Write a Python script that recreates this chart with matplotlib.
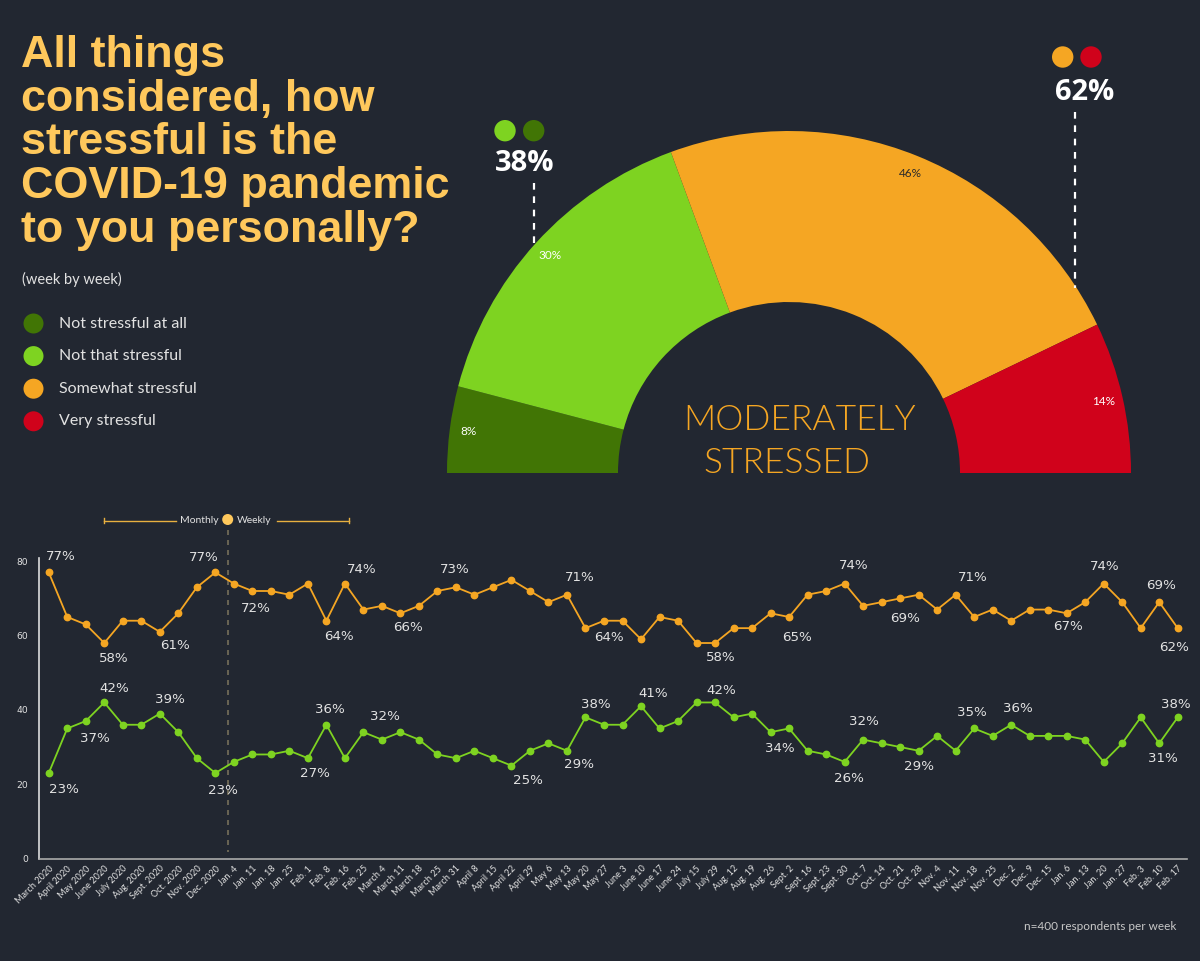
import matplotlib
matplotlib.use('Agg')
import matplotlib.pyplot as plt
from matplotlib.patches import Wedge, Circle
import numpy as np

# ---------------- data ----------------
categories = ['Not stressful at all', 'Not that stressful', 'Somewhat stressful', 'Very stressful']
gauge_values = [8, 30, 46, 14]
not_stressed_total = 38
stressed_total = 62

dates = ['March 2020', 'April 2020', 'May 2020', 'June 2020', 'July 2020', 'Aug. 2020',
         'Sept. 2020', 'Oct. 2020', 'Nov. 2020', 'Dec. 2020',
         'Jan. 4', 'Jan. 11', 'Jan. 18', 'Jan. 25', 'Feb. 1', 'Feb. 8', 'Feb. 16', 'Feb. 25',
         'March 4', 'March 11', 'March 18', 'March 25', 'March 31', 'April 8', 'April 15',
         'April 22', 'April 29', 'May 6', 'May 13', 'May 20', 'May 27', 'June 3', 'June 10',
         'June 17', 'June 24', 'July 15', 'July 29', 'Aug. 12', 'Aug. 19', 'Aug. 26',
         'Sept. 2', 'Sept. 16', 'Sept. 23', 'Sept. 30', 'Oct. 7', 'Oct. 14', 'Oct. 21',
         'Oct. 28', 'Nov. 4', 'Nov. 11', 'Nov. 18', 'Nov. 25', 'Dec. 2', 'Dec. 9', 'Dec. 15',
         'Jan. 6', 'Jan. 13', 'Jan. 20', 'Jan. 27', 'Feb. 3', 'Feb. 10', 'Feb. 17']

stressed = [77, 65, 63, 58, 64, 64, 61, 66, 73, 77,
            74, 72, 72, 71, 74, 64, 74, 67, 68, 66, 68, 72, 73, 71, 73, 75, 72, 69, 71,
            62, 64, 64, 59, 65, 64, 58, 58, 62, 62, 66, 65, 71, 72, 74, 68, 69, 70, 71,
            67, 71, 65, 67, 64, 67, 67, 66, 69, 74, 69, 62, 69, 62]

not_stressed = [23, 35, 37, 42, 36, 36, 39, 34, 27, 23,
                26, 28, 28, 29, 27, 36, 27, 34, 32, 34, 32, 28, 27, 29, 27, 25, 29, 31, 29,
                38, 36, 36, 41, 35, 37, 42, 42, 38, 39, 34, 35, 29, 28, 26, 32, 31, 30, 29,
                33, 29, 35, 33, 36, 33, 33, 33, 32, 26, 31, 38, 31, 38]

# annotations: (index, text, dx px, dy px)
stressed_labels = [(0, '77%', 12, 16), (3, '58%', 9, -15), (6, '61%', 15, -14), (9, '77%', -12, 15),
                   (11, '72%', 3, -18), (15, '64%', 13, -16), (16, '74%', 17, 14), (19, '66%', 8, -14),
                   (22, '73%', -1, 18), (28, '71%', 13, 17), (30, '64%', 5, -17), (36, '58%', 6, -14),
                   (40, '65%', 8, -20), (43, '74%', 9, 18), (46, '69%', 5, -20), (49, '71%', 17, 17),
                   (55, '67%', 1, -13), (57, '74%', 1, 17), (60, '69%', 2, 17), (61, '62%', -4, -19)]
not_stressed_labels = [(0, '23%', 15, -16), (2, '37%', 9, -17), (3, '42%', 10, 14), (6, '39%', 10, 14),
                       (9, '23%', 8, -17), (14, '27%', 7, -15), (15, '36%', 4, 15), (19, '32%', -15, 16),
                       (25, '25%', 16, -15), (28, '29%', 12, -14), (29, '38%', 10, 13), (32, '41%', 12, 13),
                       (36, '42%', 6, 12), (39, '34%', 9, -16), (43, '26%', 4, -17), (44, '32%', 1, 18),
                       (47, '29%', 0, -16), (50, '35%', -2, 16), (52, '36%', 7, 16), (60, '31%', 4, -15),
                       (61, '38%', -2, 13)]

# ---------------- style ----------------
BG = '#222731'
COLORS = ['#417505', '#7ED321', '#F5A623', '#D0021B']
GOLD = '#FFC85C'
TXT = '#E2E2E2'
SANS = ['Lato', 'DejaVu Sans']

W, H = 1200, 961
fig = plt.figure(figsize=(W / 100, H / 100), dpi=100, facecolor=BG)

ax0 = fig.add_axes([0, 0, 1, 1])
ax0.set_xlim(0, W)
ax0.set_ylim(0, H)
ax0.axis('off')
ax0.set_facecolor(BG)

def Y(y):
    return H - y

# title
title_lines = ['All things', 'considered, how', 'stressful is the', 'COVID-19 pandemic', 'to you personally?']
for k, line in enumerate(title_lines):
    ax0.text(21, Y(66.7 + 43.8 * k), line, fontsize=32.3, fontweight='bold',
             family=['Liberation Sans', 'DejaVu Sans'], color=GOLD, va='baseline', ha='left')
ax0.text(22, Y(279), '(week by week)', fontsize=10.5, family=SANS, color=TXT, va='center', ha='left')

# legend
for k, (cat, col) in enumerate(zip(categories, COLORS)):
    yy = Y(323.5 + 32.6 * k)
    ax0.add_patch(Circle((33.5, yy), 10, color=col, lw=0))
    ax0.text(59, yy, cat, fontsize=11.5, family=SANS, color=TXT, va='center', ha='left')

# gauge
cx, cy, R, RW = 789, Y(473), 342, 171
total = sum(gauge_values)
cum = 0
for v, col in zip(gauge_values, COLORS):
    a_start = 180 - cum / total * 180
    a_end = 180 - (cum + v) / total * 180
    ax0.add_patch(Wedge((cx, cy), R, a_end, a_start, width=RW, facecolor=col, edgecolor='none'))
    mid = np.deg2rad((a_start + a_end) / 2)
    tc = '#2a2a2a' if col == COLORS[2] else 'white'
    ax0.text(cx + 323 * np.cos(mid), cy + 323 * np.sin(mid), f'{v}%', fontsize=8.5,
             family=SANS, color=tc, ha='center', va='center')
    cum += v

ax0.text(800, Y(420), 'MODERATELY', fontsize=25.5, family=SANS, fontweight=300,
         color=COLORS[2], ha='center', va='center')
ax0.text(787, Y(463), 'STRESSED', fontsize=25.5, family=SANS, fontweight=300,
         color=COLORS[2], ha='center', va='center')

# callouts
ax0.add_patch(Circle((505, Y(130.7)), 10.7, color=COLORS[1], lw=0))
ax0.add_patch(Circle((533.7, Y(130.7)), 10.7, color=COLORS[0], lw=0))
ax0.text(524.3, Y(163.5), f'{not_stressed_total}%', fontsize=21, fontweight='bold', fontstyle='normal',
         family=['Open Sans', 'DejaVu Sans'], color='white', ha='center', va='center')
ax0.plot([533.7, 533.7], [Y(183), Y(246)], color='white', lw=1.6, ls=(0, (3, 3)))

ax0.add_patch(Circle((1062.7, Y(57)), 10.7, color=COLORS[2], lw=0))
ax0.add_patch(Circle((1091, Y(57)), 10.7, color=COLORS[3], lw=0))
ax0.text(1084.3, Y(92.5), f'{stressed_total}%', fontsize=21, fontweight='bold', fontstyle='normal',
         family=['Open Sans', 'DejaVu Sans'], color='white', ha='center', va='center')
ax0.plot([1075.3, 1075.3], [Y(111.7), Y(288)], color='white', lw=1.6, ls=(0, (3, 3)))

# monthly / weekly marker
ax0.plot([104, 176], [Y(520.5), Y(520.5)], color='#E8B040', lw=1)
ax0.plot([104, 104], [Y(518), Y(523)], color='#E8B040', lw=1)
ax0.plot([277, 349], [Y(520.5), Y(520.5)], color='#E8B040', lw=1)
ax0.plot([349, 349], [Y(518), Y(523)], color='#E8B040', lw=1)
ax0.text(199, Y(520.5), 'Monthly', fontsize=7.5, family=SANS, color=TXT, ha='center', va='center')
ax0.text(254.5, Y(520.5), 'Weekly', fontsize=7.5, family=SANS, color=TXT, ha='center', va='center')
ax0.plot([228, 228], [Y(520), Y(852)], color='#77705A', lw=1.2, ls=(0, (3, 3)))
ax0.add_patch(Circle((227.7, Y(519.5)), 5.5, color=GOLD, lw=0, zorder=5))

ax0.text(1176, Y(927), 'n=400 respondents per week', fontsize=8.5, family=SANS, color='#C8C8C8',
         ha='right', va='center')

# ---------------- line chart ----------------
ax = fig.add_axes([39.5 / W, (H - 858.5) / H, (1187 - 39.5) / W, (858.5 - 558.3) / H])
ax.set_facecolor('none')
x = np.arange(len(dates))
ax.plot(x, stressed, color=COLORS[2], lw=1.3, marker='o', ms=4.6, zorder=3)
ax.plot(x, not_stressed, color=COLORS[1], lw=1.3, marker='o', ms=4.6, zorder=3)

for series, labels in ((stressed, stressed_labels), (not_stressed, not_stressed_labels)):
    for i, t, dx, dy in labels:
        ax.annotate(t, (i, series[i]), xytext=(dx, dy), textcoords='offset pixels',
                    ha='center', va='center', fontsize=9.6, color=TXT, family='DejaVu Sans')

ax.set_xlim(-0.5, len(dates) - 0.5)
ax.set_ylim(0, 80.8)
ax.set_yticks([0, 20, 40, 60, 80])
ax.set_xticks(x)
ax.set_xticklabels(dates, rotation=45, ha='right', rotation_mode='anchor', fontsize=6.6,
                   family=SANS, color=TXT)
ax.tick_params(axis='both', length=0)
ax.tick_params(axis='y', labelsize=6.6, labelcolor=TXT, pad=8)
ax.tick_params(axis='x', pad=4)
for s in ('top', 'right'):
    ax.spines[s].set_visible(False)
ax.spines['left'].set_color('#DDDDDD')
ax.spines['left'].set_linewidth(1.2)
ax.spines['bottom'].set_color('#AAAAAA')
ax.spines['bottom'].set_linewidth(1.2)

fig.savefig('out.png', dpi=100, facecolor=BG)
